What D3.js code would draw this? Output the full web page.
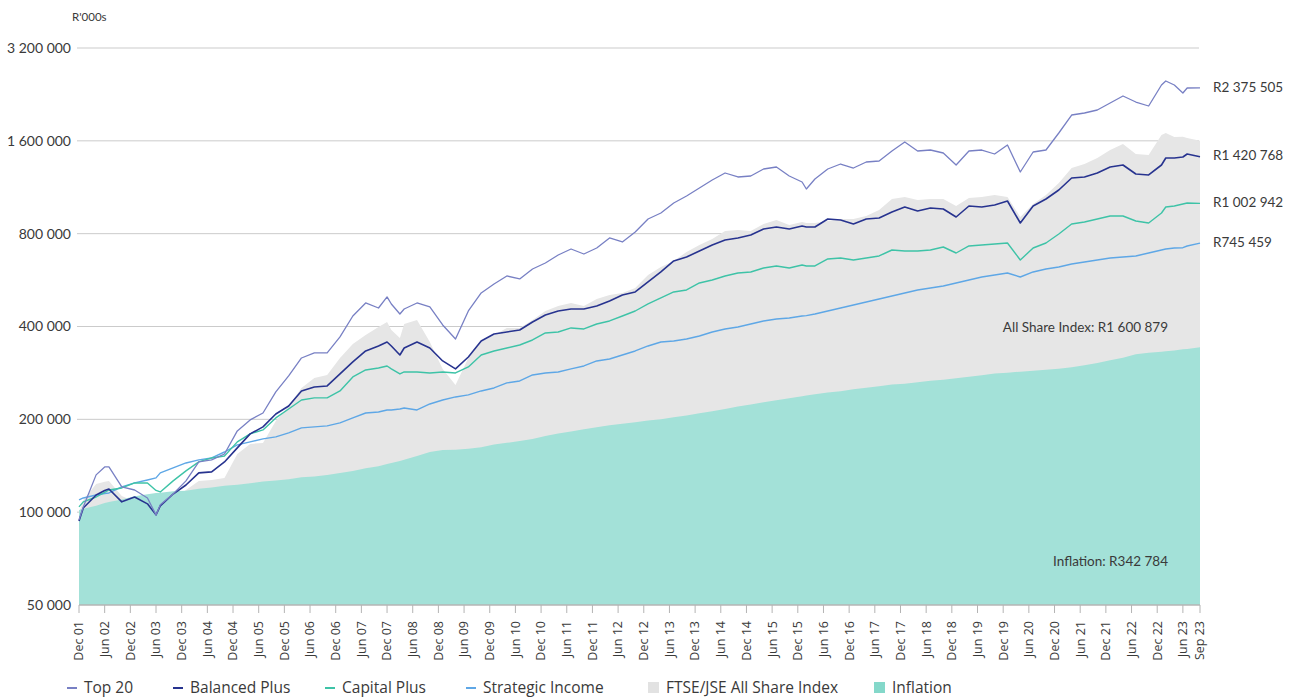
<!DOCTYPE html>
<html>
<head>
<meta charset="utf-8">
<script src="https://cdn.jsdelivr.net/npm/d3@7"></script>
<style>
  html, body { margin: 0; padding: 0; background: #fff; }
  svg { display: block; }
</style>
</head>
<body>
<svg id="chart" width="1295" height="698"></svg>
<script>
// Month offsets from the start of Dec 2001: a starting point, then each calendar quarter end up to Sep 2023
const sampleMonths = [0].concat(d3.range(1, 263, 3));
// A few extra month-ends where the series turn sharply
const extraMonths = [6, 18, 72, 75, 170, 254, 258];

// Axis ticks every six months plus the final month
const tickMonths = d3.range(0, 259, 6).concat([262]);
const tickLabels = ["Dec 01","Jun 02","Dec 02","Jun 03","Dec 03","Jun 04","Dec 04","Jun 05","Dec 05","Jun 06",
  "Dec 06","Jun 07","Dec 07","Jun 08","Dec 08","Jun 09","Dec 09","Jun 10","Dec 10","Jun 11","Dec 11","Jun 12",
  "Dec 12","Jun 13","Dec 13","Jun 14","Dec 14","Jun 15","Dec 15","Jun 16","Dec 16","Jun 17","Dec 17","Jun 18",
  "Dec 18","Jun 19","Dec 19","Jun 20","Dec 20","Jun 21","Dec 21","Jun 22","Dec 22","Jun 23","Sep 23"];

const yTicks = [50000, 100000, 200000, 400000, 800000, 1600000, 3200000];

// Growth of an investment (Rand)
const top20 = [94400, 104000, 132100, 140200, 120700, 118000, 111200, 105600, 114500, 126300, 145500, 147700,
  154400, 183400, 199100, 209700, 245400, 276500, 316200, 328300, 328300, 370000, 432700, 476800, 459300, 473300,
  455900, 476800, 462800, 404600, 364500, 449100, 513800, 549400, 583300, 570400, 614600, 642700, 682300, 713500,
  687400, 718900, 774600, 751800, 810100, 892700, 933600, 1005900, 1059900, 1125100, 1194300, 1258400, 1221400,
  1230600, 1296500, 1316000, 1230600, 1176600, 1203300, 1296500, 1345800, 1306200, 1366000, 1376300, 1483000,
  1586000, 1483000, 1494100, 1461000, 1335800, 1483000, 1494100, 1450200, 1550900, 1267800, 1472000, 1494100,
  1696400, 1940300, 1969500, 2014100, 2122200, 2236200, 2138100, 2075300, 2427600, 2427600, 2373800, 2375505];
const top20Extra = [140200, 98000, 498700, 439200, 1116700, 2501200, 2286800];

const balancedPlus = [93700, 103200, 113700, 118900, 108000, 112000, 106400, 104800, 114500, 122500, 134100, 135100,
  145500, 161600, 179400, 189000, 208200, 221000, 247200, 254700, 256600, 280700, 307000, 333200, 345900, 345900,
  340700, 356300, 340700, 309300, 291400, 318600, 359000, 378300, 384000, 389800, 413800, 435900, 449100, 455900,
  455900, 466200, 484000, 506100, 517600, 557700, 601000, 652400, 672100, 702900, 735100, 763100, 774600, 792200,
  828400, 840900, 828400, 847200, 840900, 892700, 886000, 859900, 892700, 899300, 940600, 976300, 947600, 969100,
  961900, 906100, 983600, 976300, 991000, 1021000, 866400, 983600, 1036400, 1108400, 1212300, 1221400, 1258400,
  1316000, 1335800, 1249000, 1239800, 1335800, 1407500, 1450200, 1420768];
const balancedPlusExtra = [117500, 98000, 356300, 323400, 840900, 1407500, 1418000];

const capitalPlus = [104000, 108000, 112000, 118000, 119800, 124400, 124400, 116300, 126300, 136100, 145500, 149900,
  152100, 169000, 179400, 184800, 202100, 216100, 231100, 234700, 234700, 247200, 274500, 289200, 293500, 291400,
  284900, 284900, 282800, 284900, 282800, 295700, 323400, 333200, 340700, 348400, 361700, 381200, 384000, 395700,
  392700, 407600, 416900, 432700, 449100, 473300, 494900, 517600, 525400, 553600, 566100, 583300, 596500, 601000,
  619200, 628500, 619200, 633200, 628500, 662200, 667100, 657300, 667100, 677200, 708200, 702900, 702900, 708200,
  724200, 692500, 729700, 735100, 740700, 746200, 657300, 718900, 746200, 798100, 859900, 872900, 892700, 912900,
  912900, 879400, 866400, 933600, 983600, 1005900, 1002942];
const capitalPlusExtra = [116000, 117600, 297900, 280700, 628500, 976300, 998400];

const strategicIncome = [109600, 111200, 113700, 115400, 120700, 124400, 127200, 134100, 139100, 144400, 147700,
  149900, 156700, 165200, 169000, 172800, 175400, 180700, 187600, 189000, 190400, 194700, 202100, 209700, 211300,
  214500, 217700, 214500, 224300, 231100, 236400, 240000, 247200, 252800, 262500, 266400, 278600, 282800, 284900,
  291400, 297900, 309300, 313900, 323400, 333200, 345900, 356300, 359000, 364500, 372700, 384000, 392700, 398600,
  407600, 416900, 423100, 426300, 432700, 439200, 449100, 459300, 469700, 480400, 491300, 502400, 513800, 525400,
  533300, 541300, 553600, 566100, 578900, 587600, 596500, 578900, 601000, 614600, 623800, 638000, 647600, 657300,
  667100, 672100, 677200, 692500, 708200, 718900, 729700, 745459];
const strategicIncomeExtra = [114900, 129200, 214500, 216100, 433700, 713500, 720400];

const allShareIndex = [99500, 109600, 123500, 126300, 112800, 108000, 101700, 98700, 108000, 118000, 126300, 127200,
  129000, 154400, 166500, 167700, 197600, 221000, 252800, 272400, 278600, 316200, 351100, 375500, 398600, 389800,
  407600, 420000, 356300, 291400, 258600, 316200, 356300, 375500, 395700, 395700, 420000, 449100, 466200, 476800,
  466200, 491300, 506100, 513800, 533300, 587600, 623800, 652400, 697700, 735100, 768900, 816200, 822300, 816200,
  859900, 886000, 853600, 872900, 866400, 879400, 892700, 892700, 912900, 954700, 1036400, 1052000, 1028700,
  1036400, 1036400, 983600, 1044100, 1052000, 1067800, 1052000, 906100, 998400, 1067800, 1167800, 1306200, 1345800,
  1407500, 1494100, 1562500, 1450200, 1439400, 1671200, 1646500, 1634200, 1600879];
const allShareIndexExtra = [125600, 97200, 413800, 367200, 866400, 1696400, 1650100];

const inflation = [101700, 102500, 105000, 107800, 109900, 112600, 114300, 115700, 116900, 117400, 119100, 120300,
  121900, 122700, 124100, 125700, 126600, 127800, 129700, 130600, 131900, 134000, 136100, 138800, 141000, 144400,
  148000, 152200, 156700, 159100, 159500, 160500, 162500, 165600, 167800, 170100, 172600, 176700, 180000, 182600,
  185600, 188400, 191400, 193600, 195800, 198100, 200000, 203000, 206000, 209100, 212400, 216100, 220200, 223600,
  227200, 230600, 234200, 237700, 241300, 244200, 246700, 250400, 253400, 256000, 259200, 261100, 263800, 267000,
  269000, 271600, 275000, 277700, 281500, 283300, 285500, 287700, 289800, 292000, 295000, 299400, 304300, 310700,
  317000, 325000, 329100, 331400, 334500, 338400, 342784];
const inflationExtra = [107000, 115300, 143300, 146600, 238900, 332400, 337400];

const lineNames = ["Top 20", "Balanced Plus", "Capital Plus", "Strategic Income"];
const areaNames = ["FTSE/JSE All Share Index", "Inflation"];

// ---- styling ----
const C = {
  top20: "#7880c4",
  balanced: "#27338f",
  capital: "#3ec3a7",
  strategic: "#5ea7e6",
  asi: "#e6e6e6",
  inflation: "#a3e1d8",
  inflationKey: "#84d8ca",
  asiKey: "#e2e2e2",
  grid: "#cbcbcb",
  axis: "#b4b4b4",
  text: "#3a3a3a"
};
const numFont = "Lato, 'Open Sans', sans-serif";
const labelFont = "'Open Sans', 'Noto Sans', sans-serif";

const svg = d3.select("#chart");
const plot = { left: 79, right: 1200, top: 48, bottom: 605 };

const x = d3.scaleLinear().domain([0, 262]).range([plot.left, plot.right]);
const y = d3.scaleLog().domain([50000, 3200000]).range([plot.bottom, plot.top]);

const locale = d3.formatLocale({ decimal: ".", thousands: " ", grouping: [3], currency: ["R", ""] });
const fmt = locale.format(",");

// merge the quarterly values with the extra month-ends, in time order
const rows = (vals, extra) =>
  vals.map((v, i) => ({ m: sampleMonths[i], v }))
    .concat(extra.map((v, i) => ({ m: extraMonths[i], v })))
    .sort((a, b) => a.m - b.m);

// gridlines
svg.append("g")
  .selectAll("line")
  .data(yTicks.filter(t => t > 50000))
  .join("line")
  .attr("x1", plot.left - 2).attr("x2", plot.right - 1)
  .attr("y1", d => y(d)).attr("y2", d => y(d))
  .attr("stroke", C.grid).attr("stroke-width", 1);

// areas
const area = d3.area().x(d => x(d.m)).y0(y(50000)).y1(d => y(d.v));
svg.append("path").datum(rows(allShareIndex, allShareIndexExtra)).attr("d", area).attr("fill", C.asi);
svg.append("path").datum(rows(inflation, inflationExtra)).attr("d", area).attr("fill", C.inflation);

// lines
const line = d3.line().x(d => x(d.m)).y(d => y(d.v));
const lineSeries = [
  { vals: strategicIncome, extra: strategicIncomeExtra, color: C.strategic, w: 1.4 },
  { vals: capitalPlus, extra: capitalPlusExtra, color: C.capital, w: 1.4 },
  { vals: balancedPlus, extra: balancedPlusExtra, color: C.balanced, w: 1.6 },
  { vals: top20, extra: top20Extra, color: C.top20, w: 1.3 }
];
lineSeries.forEach(s => {
  svg.append("path").datum(rows(s.vals, s.extra)).attr("d", line)
    .attr("fill", "none").attr("stroke", s.color).attr("stroke-width", s.w)
    .attr("stroke-linejoin", "round");
});

// y axis labels
svg.append("g")
  .selectAll("text")
  .data(yTicks)
  .join("text")
  .attr("x", 71).attr("y", d => y(d))
  .attr("dy", "0.35em")
  .attr("text-anchor", "end")
  .attr("font-family", numFont).attr("font-size", 14).attr("fill", C.text)
  .text(d => fmt(d));

svg.append("text")
  .attr("x", 72).attr("y", 21)
  .attr("font-family", numFont).attr("font-size", 11.5).attr("fill", C.text)
  .text("R'000s");

// x axis
const xAxis = svg.append("g");
xAxis.append("line")
  .attr("x1", plot.left).attr("x2", plot.right)
  .attr("y1", plot.bottom).attr("y2", plot.bottom)
  .attr("stroke", C.axis).attr("stroke-width", 1.5);
xAxis.selectAll("line.tick")
  .data(tickMonths)
  .join("line").attr("class", "tick")
  .attr("x1", d => x(d)).attr("x2", d => x(d))
  .attr("y1", plot.bottom).attr("y2", plot.bottom + 8)
  .attr("stroke", C.axis).attr("stroke-width", 1);
xAxis.selectAll("text")
  .data(tickMonths)
  .join("text")
  .attr("transform", d => `translate(${x(d)},${621}) rotate(-90)`)
  .attr("dy", "0.35em")
  .attr("text-anchor", "end")
  .attr("font-family", labelFont).attr("font-size", 12.5).attr("fill", C.text)
  .text((d, i) => tickLabels[i]);

// end-value labels
const endValues = [top20, balancedPlus, capitalPlus, strategicIncome].map(a => a[a.length - 1]);
svg.append("g").selectAll("text")
  .data(endValues)
  .join("text")
  .attr("x", 1213).attr("y", d => y(d) - 1)
  .attr("dy", "0.35em")
  .attr("font-family", numFont).attr("font-size", 13.5).attr("fill", C.text)
  .text(d => "R" + fmt(d));

// in-area annotations
svg.append("text")
  .attr("x", 1168).attr("y", 327).attr("dy", "0.35em")
  .attr("text-anchor", "end")
  .attr("font-family", numFont).attr("font-size", 13.5).attr("fill", C.text)
  .text("All Share Index: R" + fmt(allShareIndex[allShareIndex.length - 1]));
svg.append("text")
  .attr("x", 1168).attr("y", 561).attr("dy", "0.35em")
  .attr("text-anchor", "end")
  .attr("font-family", numFont).attr("font-size", 13.5).attr("fill", C.text)
  .text("Inflation: R" + fmt(inflation[inflation.length - 1]));

// legend
const legendY = 688;
const legend = [
  { name: lineNames[0], kind: "line", color: C.top20, x: 67 },
  { name: lineNames[1], kind: "line", color: C.balanced, x: 173 },
  { name: lineNames[2], kind: "line", color: C.capital, x: 325 },
  { name: lineNames[3], kind: "line", color: C.strategic, x: 466 },
  { name: areaNames[0], kind: "box", color: C.asiKey, x: 648 },
  { name: areaNames[1], kind: "box", color: C.inflationKey, x: 874 }
];
const lg = svg.append("g");
legend.forEach(item => {
  if (item.kind === "line") {
    lg.append("line")
      .attr("x1", item.x).attr("x2", item.x + 10)
      .attr("y1", legendY).attr("y2", legendY)
      .attr("stroke", item.color).attr("stroke-width", 2);
    lg.append("text")
      .attr("x", item.x + 17).attr("y", legendY).attr("dy", "0.35em")
      .attr("font-family", labelFont).attr("font-size", 15.5).attr("fill", C.text)
      .text(item.name);
  } else {
    lg.append("rect")
      .attr("x", item.x).attr("y", legendY - 6)
      .attr("width", 11).attr("height", 11)
      .attr("fill", item.color);
    lg.append("text")
      .attr("x", item.x + 18).attr("y", legendY).attr("dy", "0.35em")
      .attr("font-family", labelFont).attr("font-size", 15.5).attr("fill", C.text)
      .text(item.name);
  }
});
</script>
</body>
</html>
